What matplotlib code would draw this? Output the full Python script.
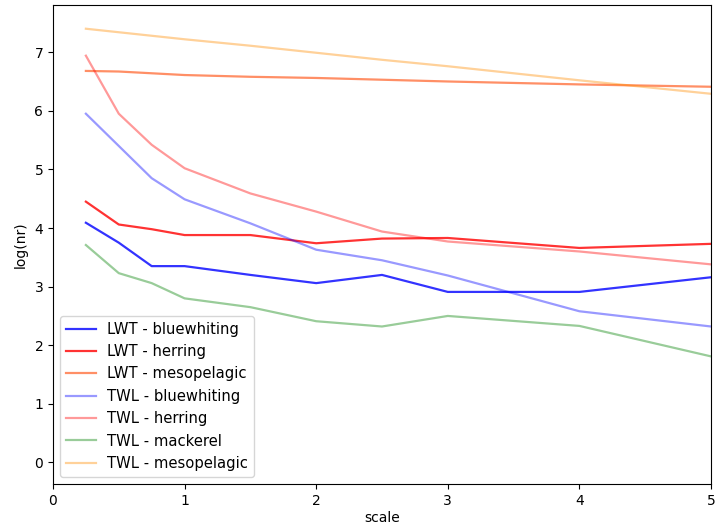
import matplotlib
matplotlib.use("Agg")
import matplotlib.pyplot as plt

scale = [0.25, 0.5, 0.75, 1, 1.5, 2, 2.5, 3, 4, 5]

lwt_bluewhiting = [4.09, 3.75, 3.35, 3.35, 3.20, 3.06, 3.20, 2.91, 2.91, 3.16]
lwt_herring = [4.45, 4.06, 3.98, 3.88, 3.88, 3.74, 3.82, 3.83, 3.66, 3.73]
lwt_mesopelagic = [6.68, 6.67, 6.64, 6.61, 6.58, 6.56, 6.53, 6.50, 6.45, 6.41]
twl_bluewhiting = [5.95, 5.40, 4.85, 4.49, 4.08, 3.63, 3.45, 3.19, 2.58, 2.32]
twl_herring = [6.94, 5.95, 5.42, 5.02, 4.59, 4.28, 3.94, 3.77, 3.60, 3.38]
twl_mackerel = [3.71, 3.23, 3.06, 2.80, 2.65, 2.41, 2.32, 2.50, 2.33, 1.81]
twl_mesopelagic = [7.40, 7.34, 7.28, 7.22, 7.11, 6.99, 6.87, 6.76, 6.52, 6.29]

dpi = 100
fig, ax = plt.subplots(figsize=(716 / dpi, 528 / dpi), dpi=dpi)
fig.subplots_adjust(left=0.074, right=0.993, top=0.99, bottom=0.083)

ax.plot(scale, lwt_bluewhiting, label="LWT - bluewhiting", color="blue", alpha=0.8, lw=1.6)
ax.plot(scale, lwt_herring, label="LWT - herring", color="red", alpha=0.8, lw=1.6)
ax.plot(scale, lwt_mesopelagic, label="LWT - mesopelagic", color="orangered", alpha=0.6, lw=1.6)
ax.plot(scale, twl_bluewhiting, label="TWL - bluewhiting", color="blue", alpha=0.4, lw=1.6)
ax.plot(scale, twl_herring, label="TWL - herring", color="red", alpha=0.4, lw=1.6)
ax.plot(scale, twl_mackerel, label="TWL - mackerel", color="green", alpha=0.4, lw=1.6)
ax.plot(scale, twl_mesopelagic, label="TWL - mesopelagic", color="darkorange", alpha=0.4, lw=1.6)

ax.set_xlim(0, 5)
ax.set_ylim(-0.37, 7.8)
ax.set_xlabel("scale", labelpad=2)
ax.set_ylabel("log(nr)", labelpad=5)
ax.legend(loc="lower left", fontsize=10.6)
plt.savefig("out.png", dpi=dpi)
